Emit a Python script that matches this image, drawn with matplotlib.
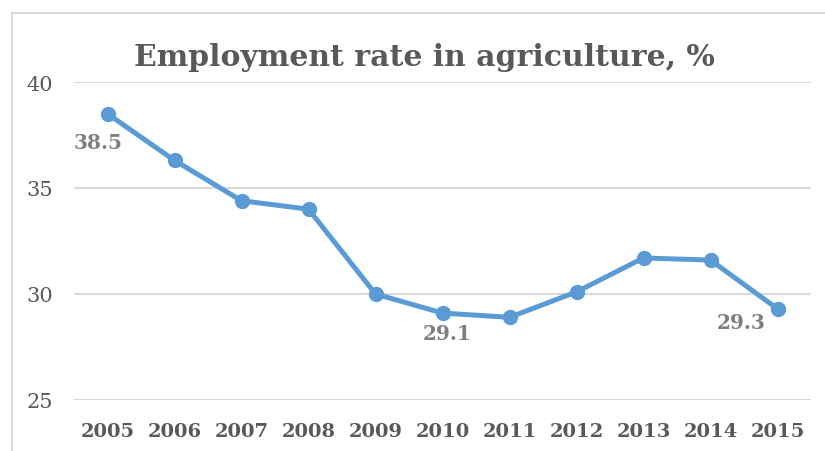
import matplotlib.pyplot as plt
from matplotlib.lines import Line2D

years = ['2005', '2006', '2007', '2008', '2009', '2010',
         '2011', '2012', '2013', '2014', '2015']
rate = [38.5, 36.3, 34.4, 34.0, 30.0, 29.1, 28.9, 30.1, 31.7, 31.6, 29.3]
# labelled points: index -> offset in pixels (dx, dy)
labelled = {0: (-9, -28), 5: (5, -20), 10: (-36, -13)}

serif = ['DejaVu Serif']
fig = plt.figure(figsize=(8.25, 4.52), dpi=100)
ax = fig.add_axes([74/825, 1-401/452, (811-74)/825, (401-83)/452])

x = list(range(len(years)))
ax.plot(x, rate, color='#5B9BD5', lw=3.6, marker='o', ms=10, zorder=3)
ax.set_xlim(-0.5, len(years)-0.5)
ax.set_ylim(25, 40)
ax.set_yticks([25, 30, 35, 40])
ax.set_xticks(x)
ax.set_xticklabels(years, fontfamily=serif, fontweight='bold',
                   fontsize=14, color='#595959')
for t in ax.get_yticklabels():
    t.set_fontfamily(serif)
    t.set_fontsize(15)
    t.set_color('#595959')
ax.tick_params(length=0)
ax.tick_params(axis='y', pad=15)
ax.tick_params(axis='x', pad=16)
ax.grid(axis='y', color='#D9D9D9', lw=1.5)
ax.set_axisbelow(True)
for s in ax.spines.values():
    s.set_visible(False)

for i, (dx, dy) in labelled.items():
    ax.annotate(f'{rate[i]:.1f}', (x[i], rate[i]), xytext=(dx*0.72, dy*0.72),
                textcoords='offset points', ha='center', va='center',
                fontfamily=serif, fontweight='bold', fontsize=14.5,
                color='#7F7F7F')

fig.text(424/825, 1-57/452, 'Employment rate in agriculture, %',
         ha='center', va='center', fontfamily=serif, fontweight='bold',
         fontsize=21.5, color='#595959')

# chart border (left and top visible)
fig.add_artist(Line2D([12/825, 12/825], [0, 1-14/452], color='#D9D9D9', lw=1.5))
fig.add_artist(Line2D([12/825, 1], [1-14/452, 1-14/452], color='#D9D9D9', lw=1.5))

fig.savefig('out.png', dpi=100)
